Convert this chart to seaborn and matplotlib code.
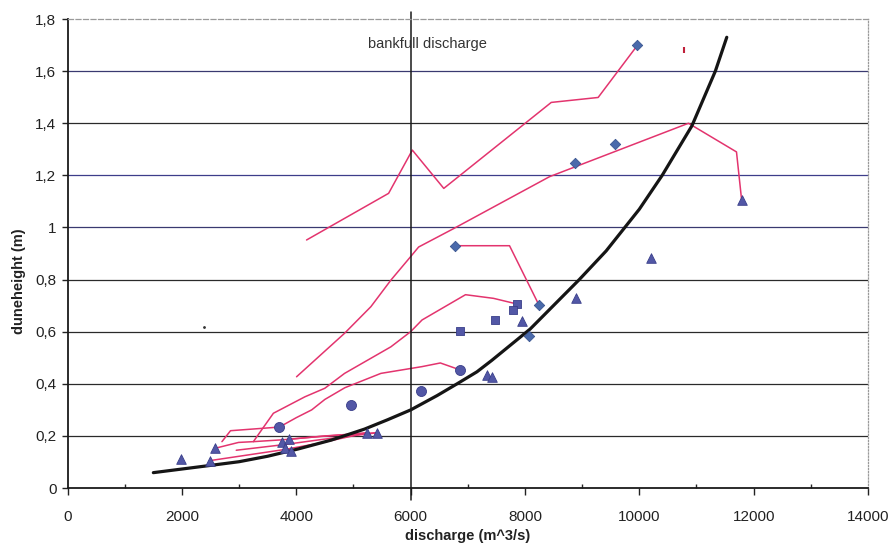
import matplotlib
matplotlib.use('Agg')
import matplotlib.pyplot as plt
import seaborn as sns
import pandas as pd
from matplotlib.ticker import MultipleLocator

# --- data ---
# black fitted curve
curve_q = [1500, 2470, 3000, 3500, 4035, 4613, 5192, 5597, 6003, 6465, 6813, 7160, 7420, 8090, 8950, 9420, 10000, 10400, 10920, 11330, 11530]
curve_h = [0.059, 0.086, 0.101, 0.122, 0.15, 0.184, 0.226, 0.262, 0.30, 0.355, 0.40, 0.446, 0.49, 0.61, 0.80, 0.91, 1.07, 1.20, 1.39, 1.60, 1.73]

# pink hysteresis lines
line_a_q = [4180, 5615, 6030, 6580, 8460, 9280, 9970]
line_a_h = [0.952, 1.131, 1.297, 1.150, 1.480, 1.499, 1.70]
line_b_q = [4005, 4845, 5305, 5655, 6000, 6140, 6755, 8430, 10860, 11700, 11790]
line_b_h = [0.427, 0.594, 0.696, 0.798, 0.888, 0.925, 0.996, 1.195, 1.40, 1.29, 1.105]
line_c_q = [6770, 7730, 8250]
line_c_h = [0.93, 0.93, 0.70]
line_e_q = [2570, 2990, 3250, 3400, 3600, 4150, 4500, 4845, 5655, 6000, 6200, 6960, 7450, 7866]
line_e_h = [0.152, 0.175, 0.178, 0.225, 0.287, 0.35, 0.383, 0.44, 0.542, 0.60, 0.645, 0.742, 0.728, 0.706]
line_f_q = [2700, 2850, 3705]
line_f_h = [0.178, 0.22, 0.234]
line_h_q = [3705, 4000, 4270, 4500, 4850, 5480, 6200, 6520, 6870]
line_h_h = [0.234, 0.27, 0.30, 0.34, 0.385, 0.44, 0.466, 0.48, 0.453]
line_i_q = [2484, 3800, 4400, 5238]
line_i_h = [0.105, 0.148, 0.172, 0.212]
line_j_q = [2950, 3800, 4400, 5411]
line_j_h = [0.145, 0.167, 0.185, 0.212]
line_k_q = [3250, 3750, 4380, 5238]
line_k_h = [0.178, 0.185, 0.197, 0.212]
line_l_q = [3873, 4500, 5411]
line_l_h = [0.187, 0.20, 0.212]

# measured points
tri_q = [1980, 2484, 2571, 3757, 3873, 3803, 3907, 5238, 5411, 7330, 7430, 7953, 8896, 10200, 11790]
tri_h = [0.111, 0.105, 0.152, 0.178, 0.187, 0.152, 0.143, 0.212, 0.212, 0.435, 0.425, 0.641, 0.728, 0.883, 1.105]
dia_q = [9967, 9573, 8878, 6772, 8248, 8068]
dia_h = [1.70, 1.319, 1.248, 0.93, 0.702, 0.583]
sq_q = [7866, 7797, 7477, 6859]
sq_h = [0.706, 0.683, 0.645, 0.604]
circ_q = [3705, 4960, 6176, 6870]
circ_h = [0.234, 0.318, 0.373, 0.453]

x_ticks = [0, 2000, 4000, 6000, 8000, 10000, 12000, 14000]
y_ticks = [0, 0.2, 0.4, 0.6, 0.8, 1.0, 1.2, 1.4, 1.6, 1.8]
y_labels = ['0', '0,2', '0,4', '0,6', '0,8', '1', '1,2', '1,4', '1,6', '1,8']
bankfull_q = 6000

sns.set_style('white')
plt.rcParams['font.family'] = ['Liberation Sans', 'DejaVu Sans']

pink = '#e3346e'
blue = '#5257a6'

fig = plt.figure(figsize=(8.94, 5.52), dpi=100)
ax = fig.add_axes([0.0756, 0.1159, 0.8953, 0.8496])

pink_lines = [(line_a_q, line_a_h), (line_b_q, line_b_h), (line_c_q, line_c_h),
              (line_e_q, line_e_h), (line_f_q, line_f_h), (line_h_q, line_h_h),
              (line_i_q, line_i_h), (line_j_q, line_j_h), (line_k_q, line_k_h),
              (line_l_q, line_l_h)]
for q, h in pink_lines:
    sns.lineplot(x=q, y=h, sort=False, estimator=None, color=pink, lw=1.1, ax=ax)

sns.lineplot(x=curve_q, y=curve_h, sort=False, estimator=None, color='#151515', lw=2.3, ax=ax)

sns.scatterplot(x=tri_q, y=tri_h, marker='^', s=48, color=blue, edgecolor='#3a3f8a', linewidth=0.6, ax=ax, zorder=5)
sns.scatterplot(x=dia_q, y=dia_h, marker='D', s=28, color='#4a6aab', edgecolor='#3a5590', linewidth=0.6, ax=ax, zorder=5)
sns.scatterplot(x=sq_q, y=sq_h, marker='s', s=36, color=blue, edgecolor='#3a3f8a', linewidth=0.6, ax=ax, zorder=5)
sns.scatterplot(x=circ_q, y=circ_h, marker='o', s=52, color=blue, edgecolor='#3a3f8a', linewidth=0.6, ax=ax, zorder=5)

# scan specks
ax.plot([10790], [1.68], marker='|', ms=4, color='#c0203a', mew=1.5)
ax.plot([2390], [0.617], marker='.', ms=2, color='#333333')

# bankfull line
ax.axvline(bankfull_q, ymin=-0.025, ymax=1.015, color='#1a1a1a', lw=1.1, clip_on=False)
ax.text(5250, 1.705, 'bankfull discharge', fontsize=10.5, color='#333333', va='center')

ax.set_xlim(0, 14000)
ax.set_ylim(0, 1.8)
ax.set_xticks(x_ticks)
ax.set_xticklabels([str(v) for v in x_ticks])
ax.xaxis.set_minor_locator(MultipleLocator(1000))
ax.set_yticks(y_ticks)
ax.set_yticklabels(y_labels)
ax.tick_params(axis='x', which='major', direction='out', length=5, width=1, pad=11, labelsize=11, colors='#222222')
ax.tick_params(axis='x', which='minor', direction='in', length=3, width=1)
ax.tick_params(axis='y', which='major', direction='out', length=4, width=1, pad=4, labelsize=11, colors='#222222')
ax.tick_params(bottom=True, left=True)
ax.tick_params(axis='x', which='minor', bottom=True)

ax.grid(axis='y', color='#2a2a2a', lw=0.9)
grid_colors = ['#2a2a2a', '#2a2a2a', '#2a2a2a', '#2a2a2a', '#2a2a2a', '#3a3a70', '#3d3d8a', '#2a2a2a', '#3a3a70', '#999999']
for gl, c in zip(ax.get_ygridlines(), grid_colors):
    gl.set_color(c)
ax.get_ygridlines()[-1].set_visible(False)
ax.get_ygridlines()[0].set_visible(False)

for s in ['left', 'bottom']:
    ax.spines[s].set_color('#1a1a1a')
    ax.spines[s].set_linewidth(1.3)
ax.spines['top'].set_color('#9a9a9a')
ax.spines['top'].set_linestyle((0, (4, 2)))
ax.spines['top'].set_linewidth(0.9)
ax.spines['right'].set_color('#9a9a9a')
ax.spines['right'].set_linestyle((0, (1, 1.5)))
ax.spines['right'].set_linewidth(0.9)

ax.set_xlabel('discharge (m^3/s)', fontsize=10.5, fontweight='bold', color='#222222')
ax.set_ylabel('duneheight (m)', fontsize=10.5, fontweight='bold', color='#222222')
ax.xaxis.set_label_coords(0.5, -0.088)
ax.yaxis.set_label_coords(-0.052, 0.44)

fig.savefig('out.png', dpi=100)
